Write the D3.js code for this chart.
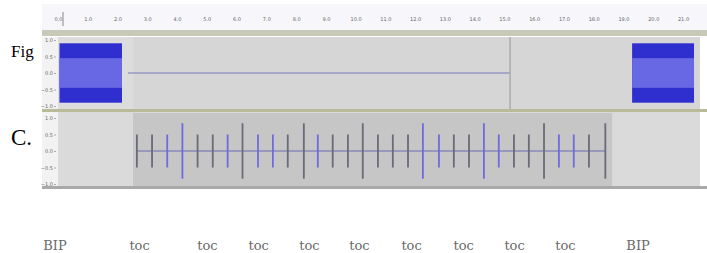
<!DOCTYPE html>
<html>
<head>
<meta charset="utf-8">
<script src="https://d3js.org/d3.v7.min.js"></script>
<style>
  body { margin: 0; background: #fff; }
  svg { display: block; }
  .tiny text { font-family: "DejaVu Sans", sans-serif; font-size: 5px; fill: #666; }
  .tiny path { display: none; }
  .tiny line { stroke: #aaa; }
</style>
</head>
<body>
<svg id="main" width="707" height="253"></svg>
<script>
// ruler ticks (seconds)
var rulerTicks = [0,1,2,3,4,5,6,7,8,9,10,11,12,13,14,15,16,17,18,19,20,21];
// track 1: the two BIP blocks (start, end in s), peak and rms level
var bipBlocks = [[0.05, 2.15], [19.29, 21.37]];
var bipPeak = 0.9, bipRms = 0.45;
var markerTime = 15.19;
// track 2: toc clicks
var tocTimes = [2.65,3.16,3.67,4.18,4.69,5.2,5.7,6.2,6.72,7.22,7.72,8.26,8.73,9.23,9.74,10.24,
                10.75,11.25,11.76,12.26,12.8,13.3,13.81,14.31,14.81,15.32,15.82,16.33,16.83,17.33,17.84,18.39];
var tocAmp = [0.5,0.5,0.5,0.84,0.5,0.5,0.5,0.84,0.5,0.5,0.5,0.84,0.5,0.5,0.5,0.84,
              0.5,0.5,0.5,0.84,0.5,0.5,0.5,0.84,0.5,0.5,0.5,0.84,0.5,0.5,0.5,0.84];
var tocBlue = [0,0,1,1,0,0,1,0,1,1,0,0,1,0,0,0,0,0,0,1,1,0,0,1,1,0,0,0,1,1,0,0];
// label track
var labelNames = ["BIP","toc","toc","toc","toc","toc","toc","toc","toc","toc","BIP"];
var labelTimes = [-0.1,2.74,5.02,6.74,8.45,10.13,11.88,13.63,15.34,17.05,19.49];
var ampTicks = [1,0.5,0,-0.5,-1];

var svg = d3.select("#main");
var x = d3.scaleLinear().domain([0, 21]).range([58, 683]);
var y1 = d3.scaleLinear().domain([-1, 1]).range([106, 40]);
var y2 = d3.scaleLinear().domain([-1, 1]).range([184, 118]);

// side text
svg.append("text").attr("x", 11).attr("y", 57)
  .style("font-family", "Liberation Serif, serif").style("font-size", "17px").text("Fig");
svg.append("text").attr("x", 11).attr("y", 145)
  .style("font-family", "Liberation Serif, serif").style("font-size", "23px").text("C.");

// ruler
svg.append("rect").attr("x", 42).attr("y", 4).attr("width", 665).attr("height", 27).attr("fill", "#f6f6fb");
svg.append("rect").attr("x", 42).attr("y", 30).attr("width", 665).attr("height", 6).attr("fill", "#c9c9ba");
svg.append("g").attr("class", "tiny").attr("transform", "translate(0,17)")
  .call(d3.axisBottom(x).tickValues(rulerTicks).tickSize(0).tickPadding(0).tickFormat(d3.format(".1f")));
svg.append("line").attr("x1", 63).attr("x2", 63).attr("y1", 12).attr("y2", 26)
  .attr("stroke", "#888").attr("stroke-width", 1);

// track frames
function track(top, h, ys) {
  svg.append("rect").attr("x", 42).attr("y", top).attr("width", 16).attr("height", h).attr("fill", "#f2f2f2");
  svg.append("g").attr("class", "tiny").attr("transform", "translate(56,0)")
    .call(d3.axisLeft(ys).tickValues(ampTicks).tickSize(2).tickPadding(1).tickFormat(d3.format(".1f")));
}

// track 1
svg.append("rect").attr("x", 58).attr("y", 37).attr("width", 642).attr("height", 72).attr("fill", "#d6d6d6");
svg.append("rect").attr("x", 58).attr("y", 37).attr("width", x(2.53) - 58).attr("height", 72).attr("fill", "#dcdcdc");
track(37, 72, y1);
svg.append("line").attr("x1", x(2.35)).attr("x2", x(markerTime)).attr("y1", y1(0)).attr("y2", y1(0))
  .attr("stroke", "#7878b8").attr("stroke-width", 1);
svg.append("line").attr("x1", x(markerTime)).attr("x2", x(markerTime)).attr("y1", 37).attr("y2", 109)
  .attr("stroke", "#ababab").attr("stroke-width", 1.5);
svg.selectAll(".bip").data(bipBlocks).enter().append("rect")
  .attr("x", function(d){ return x(d[0]); }).attr("width", function(d){ return x(d[1]) - x(d[0]); })
  .attr("y", y1(bipPeak)).attr("height", y1(-bipPeak) - y1(bipPeak)).attr("fill", "#2f2fd0");
svg.selectAll(".rms").data(bipBlocks).enter().append("rect")
  .attr("x", function(d){ return x(d[0]); }).attr("width", function(d){ return x(d[1]) - x(d[0]); })
  .attr("y", y1(bipRms)).attr("height", y1(-bipRms) - y1(bipRms)).attr("fill", "#6868e4");
svg.append("rect").attr("x", 42).attr("y", 109).attr("width", 665).attr("height", 3).attr("fill", "#b9bb98");

// track 2
svg.append("rect").attr("x", 58).attr("y", 112).attr("width", 642).attr("height", 74).attr("fill", "#dadada");
svg.append("rect").attr("x", x(2.52)).attr("y", 113).attr("width", x(18.62) - x(2.52)).attr("height", 73).attr("fill", "#c6c6c6");
track(112, 74, y2);
svg.append("line").attr("x1", x(tocTimes[0])).attr("x2", x(tocTimes[tocTimes.length - 1])).attr("y1", y2(0)).attr("y2", y2(0))
  .attr("stroke", "#6a6ab0").attr("stroke-width", 1);
svg.selectAll(".toc").data(tocTimes).enter().append("line")
  .attr("x1", function(d){ return x(d); }).attr("x2", function(d){ return x(d); })
  .attr("y1", function(d, i){ return y2(tocAmp[i]); })
  .attr("y2", function(d, i){ return y2(-tocAmp[i]); })
  .attr("stroke", function(d, i){ return tocBlue[i] ? "#6c6ce0" : "#6a6a78"; })
  .attr("stroke-width", 1.8);
svg.append("rect").attr("x", 42).attr("y", 186).attr("width", 665).attr("height", 3).attr("fill", "#a9a9a9");

// label track
svg.selectAll(".lab").data(labelTimes).enter().append("text")
  .attr("x", function(d){ return x(d); }).attr("y", 250)
  .attr("text-anchor", "middle")
  .style("font-family", "DejaVu Serif, serif").style("font-size", "13px").attr("fill", "#6a6a6a")
  .text(function(d, i){ return labelNames[i]; });
</script>
</body>
</html>
